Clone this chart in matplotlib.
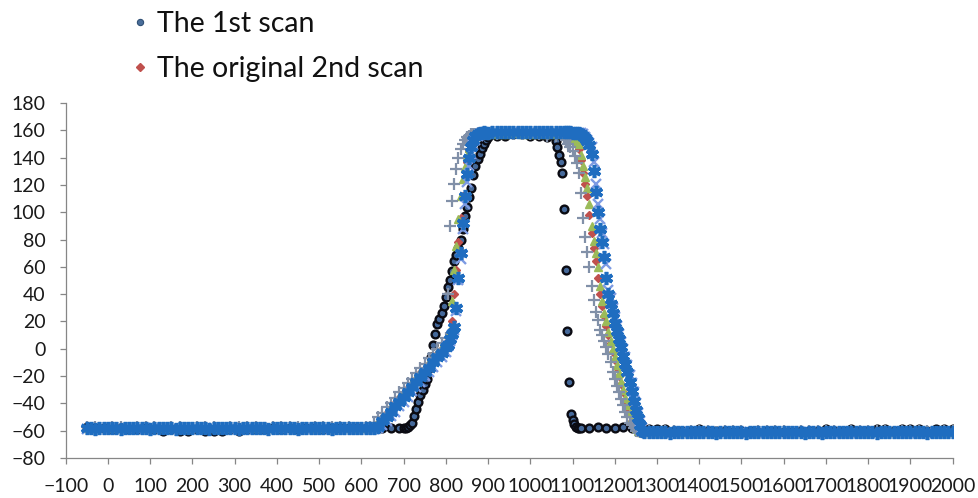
import numpy as np
import matplotlib
matplotlib.use("Agg")
import matplotlib.pyplot as plt
from matplotlib.lines import Line2D

plt.rcParams["font.family"] = ["Lato", "DejaVu Sans"]

# ---- scan positions -------------------------------------------------------
# first scan: coarse on the flat parts, fine on the edges
x_first = np.concatenate([
    np.arange(-50, 691, 20),
    np.arange(700, 896, 5),
    np.arange(900, 1041, 20),
    np.arange(1060, 1117, 4),
    np.arange(1120, 2001, 20),
])
# shared grid of the red / green / plus / cross scans
x_other = np.concatenate([
    np.arange(-50, 611, 20),
    np.arange(620, 801, 10),
    np.arange(805, 896, 5),
    np.arange(900, 1081, 20),
    np.arange(1085, 1266, 5),
    np.arange(1280, 2001, 20),
])
# the star scan was sampled more finely on the plateaus
x_star = np.concatenate([
    np.arange(-50, 611, 10),
    np.arange(620, 801, 10),
    np.arange(805, 896, 5),
    np.arange(900, 1081, 10),
    np.arange(1085, 1266, 5),
    np.arange(1270, 2001, 10),
])

# ---- readings -------------------------------------------------------------
scan1_y = [
    -57, -58, -58, -59, -58, -59, -59, -58, -59, -60,
    -59, -60, -60, -59, -60, -60, -60, -59, -60, -59,
    -59, -59, -58, -59, -58, -59, -58, -58, -59, -58,
    -58, -58, -58, -58, -57, -58, -58, -58,
    -58, -58, -57, -56, -54, -49, -44, -39, -34, -30,
    -26, -22, -14, -6, 3, 11, 18, 22, 26, 31,
    38, 45, 50, 57, 64, 69, 74, 80, 88, 97,
    104, 111, 118, 127, 134, 139, 143, 147, 150, 153,
    155, 156, 156, 157, 157, 156, 156, 155,
    152, 148, 142, 137, 129, 102, 58, 13, -24, -48, -52, -55, -57, -58, -58,
    -58, -58, -57, -58, -58, -57, -58, -58, -59, -59,
    -59, -60, -60, -60, -59, -60, -60, -60, -61, -60,
    -60, -61, -60, -60, -61, -61, -60, -60, -60, -59,
    -60, -60, -59, -60, -60, -59, -59, -60, -59, -59,
    -59, -60, -59, -59, -59,
]

scan2_original_y = [
    -58, -58, -58, -58, -57, -58, -58, -58, -58, -58,
    -59, -58, -58, -58, -58, -58, -58, -59, -58, -58,
    -58, -58, -58, -58, -58, -59, -58, -58, -58, -58,
    -58, -58, -57, -58,
    -58, -58, -54, -51, -47, -44, -40, -36, -33, -29, -26, -22, -18, -15, -11, -8, -4, 0, 3,
    6, 12, 20, 40, 58, 78, 96, 112, 126, 137, 145, 150, 153, 155, 156, 157, 157, 157, 158,
    157, 157, 157, 157, 158, 157, 157, 157, 157, 157,
    157, 156, 155, 154, 152, 150, 146, 138, 129, 121,
    112, 98, 85, 74, 64, 52, 40, 31, 24, 17,
    10, 4, -2, -8, -14, -20, -26, -32, -38, -43,
    -48, -53, -57, -59, -60, -61, -61,
    -61, -61, -60, -61, -61, -61, -61, -60, -61, -61,
    -61, -61, -61, -60, -61, -61, -61, -61, -61, -60,
    -61, -61, -61, -61, -61, -60, -61, -61, -61, -61,
    -61, -61, -60, -61, -61, -61, -61,
]

tri_y = [
    -58, -58, -57, -58, -58, -58, -57, -58, -58, -58,
    -58, -58, -58, -57, -58, -58, -58, -58, -57, -58,
    -58, -58, -58, -58, -57, -58, -58, -58, -58, -58,
    -57, -58, -58, -58,
    -58, -57, -53, -50, -46, -42, -39, -35, -32, -28, -24, -21, -17, -14, -10, -6, -3, 1, 4,
    7, 14, 35, 58, 75, 95, 112, 124, 133, 141, 147, 151, 154, 156, 157, 157, 157, 158, 157,
    157, 157, 157, 158, 157, 157, 157, 157, 157, 157,
    157, 156, 155, 154, 153, 152, 150, 142, 134, 126,
    118, 106, 90, 79, 70, 60, 46, 35, 26, 20,
    12, 6, 0, -6, -12, -18, -24, -30, -36, -41,
    -47, -51, -55, -58, -60, -61, -61,
    -61, -61, -61, -60, -61, -61, -61, -61, -61, -60,
    -61, -61, -61, -61, -61, -61, -60, -61, -61, -61,
    -61, -61, -60, -61, -61, -61, -61, -61, -61, -61,
    -60, -61, -61, -61, -61, -61, -61,
]

plus_y = [
    -57, -57, -58, -57, -57, -58, -57, -57, -57, -58,
    -57, -57, -58, -57, -57, -57, -58, -57, -57, -57,
    -57, -58, -57, -57, -57, -57, -58, -57, -57, -57,
    -57, -57, -58, -57,
    -57, -54, -50, -47, -43, -40, -36, -32, -29, -25, -22, -18, -14, -11, -7, -4, 0, 4, 8,
    40, 90, 108, 121, 132, 140, 146, 150, 153, 155, 156, 157, 157, 157, 158, 157, 157, 158, 157,
    157, 157, 158, 157, 157, 157, 157, 156, 156, 155,
    153, 150, 148, 145, 141, 136, 129, 114, 96, 82,
    71, 60, 46, 36, 27, 21, 14, 10, 6, 1,
    -4, -10, -17, -22, -27, -32, -37, -41, -46, -50,
    -54, -56, -58, -60, -60, -61, -61,
    -60, -61, -60, -60, -61, -60, -60, -60, -61, -60,
    -60, -60, -61, -60, -60, -60, -60, -61, -60, -60,
    -60, -60, -60, -61, -60, -60, -60, -60, -60, -61,
    -60, -60, -60, -60, -61, -60, -60,
]

cross_y = [
    -59, -59, -59, -58, -59, -59, -59, -59, -58, -59,
    -59, -59, -59, -59, -59, -58, -59, -59, -59, -59,
    -58, -59, -59, -59, -59, -59, -59, -58, -59, -59,
    -59, -59, -59, -58,
    -59, -59, -58, -56, -53, -49, -46, -42, -39, -35, -31, -28, -24, -20, -17, -13, -10, -6, -2,
    2, 6, 10, 14, 28, 50, 66, 88, 106, 122, 134, 143, 149, 153, 156, 157, 158, 158, 158,
    158, 158, 159, 159, 159, 158, 159, 159, 159, 159,
    159, 159, 158, 158, 158, 158, 158, 158, 157, 155,
    153, 151, 148, 137, 121, 106, 95, 85, 77, 62,
    43, 37, 30, 23, 17, 11, 5, 0, -6, -12,
    -19, -25, -32, -40, -47, -53, -58,
    -62, -62, -62, -62, -61, -62, -62, -62, -62, -62,
    -62, -61, -62, -62, -62, -62, -62, -62, -62, -61,
    -62, -62, -62, -62, -62, -62, -61, -62, -62, -62,
    -62, -62, -62, -62, -62, -61, -62,
]

star_y = [
    -58, -58, -59, -58, -58, -58, -58, -58, -59, -58,
    -58, -58, -58, -58, -58, -59, -58, -58, -58, -58,
    -58, -59, -58, -58, -58, -58, -58, -58, -58, -59,
    -58, -58, -58, -58, -58, -58, -59, -58, -58, -58,
    -58, -58, -58, -59, -58, -58, -58, -58, -58, -58,
    -59, -58, -58, -58, -58, -58, -58, -58, -59, -58,
    -58, -58, -58, -58, -58, -58, -58,
    -58, -58, -57, -53, -50, -46, -42, -39, -35, -32, -28, -24, -21, -17, -14, -10, -6, -3, 1,
    3, 7, 11, 16, 30, 52, 70, 92, 112, 128, 140, 148, 153, 156, 157, 158, 158, 159, 158,
    158, 159, 159, 159, 159, 159, 159, 159, 159, 159,
    159, 159, 159, 159, 159, 159, 159, 159, 159,
    159, 159, 159, 158, 158, 158, 158, 157, 156, 154,
    152, 149, 143, 130, 115, 100, 88, 78, 67, 52,
    40, 33, 26, 19, 13, 7, 1, -5, -11, -17,
    -24, -31, -38, -45, -51, -56, -60,
    -61, -61, -61, -61, -61, -61, -62, -61, -61, -61,
    -61, -61, -61, -61, -61, -61, -61, -62, -61, -61,
    -61, -61, -61, -61, -62, -61, -61, -61, -61, -61,
    -61, -61, -61, -61, -61, -61, -61, -61, -62, -61,
    -61, -61, -62, -61, -61, -61, -61, -61, -61, -61,
    -61, -61, -61, -61, -61, -62, -61, -61, -61, -61,
    -61, -61, -61, -61, -61, -61, -61, -62, -61, -61,
    -61, -61, -61, -61,
]

legend_labels = ["The 1st scan", "The original 2nd scan"]
x_ticks = list(range(-100, 2001, 100))
y_ticks = list(range(-80, 181, 20))

# ---- figure ---------------------------------------------------------------
fig = plt.figure(figsize=(9.79, 4.98), dpi=100)
ax = fig.add_axes([0.0671, 0.0803, 0.9060, 0.7129])

ax.plot(x_first, scan1_y, ls="none", marker="o", ms=5.6,
        mfc="#45699A", mec="#0b0b12", mew=1.7, zorder=2)
ax.plot(x_other, scan2_original_y, ls="none", marker="D", ms=3.6,
        mfc="#C0504D", mec="#C0504D", zorder=3)
ax.plot(x_other, tri_y, ls="none", marker="^", ms=6,
        mfc="#9BBB59", mec="#9BBB59", zorder=4)
ax.plot(x_other, plus_y, ls="none", marker="+", ms=8.5, mew=1.6,
        color="#8190A8", zorder=5)
ax.plot(x_other, cross_y, ls="none", marker="x", ms=7.5, mew=1.7,
        color="#7E9BE3", zorder=6)
ax.plot(x_star, star_y, ls="none", marker=(6, 2, 0), ms=9.5, mew=2.6,
        color="#1F6DC0", zorder=7)

ax.set_xlim(-100, 2000)
ax.set_ylim(-80, 180)
ax.set_xticks(x_ticks)
ax.set_yticks(y_ticks)

for side in ("top", "right"):
    ax.spines[side].set_visible(False)
for side in ("left", "bottom"):
    ax.spines[side].set_color("#868686")
    ax.spines[side].set_linewidth(0.9)

ax.tick_params(axis="both", direction="out", length=4.5, width=0.9,
               color="#868686", labelsize=14, labelcolor="#1a1a1a")
ax.tick_params(axis="x", pad=10)
ax.tick_params(axis="y", pad=10)

handles = [
    Line2D([], [], ls="none", marker="o", ms=4.5, mfc="#4A6E9A", mec="#2F4F75", mew=0.8),
    Line2D([], [], ls="none", marker="D", ms=3.6, mfc="#C0504D", mec="#C0504D"),
]
fig.legend(handles, legend_labels, loc="upper left",
           bbox_to_anchor=(0.1345, 0.977), frameon=False, fontsize=20.5,
           borderpad=0, borderaxespad=0, handlelength=0.6,
           handletextpad=0.3, labelspacing=0.64, labelcolor="#111111")

fig.savefig("out.png", dpi=100, facecolor="white")
